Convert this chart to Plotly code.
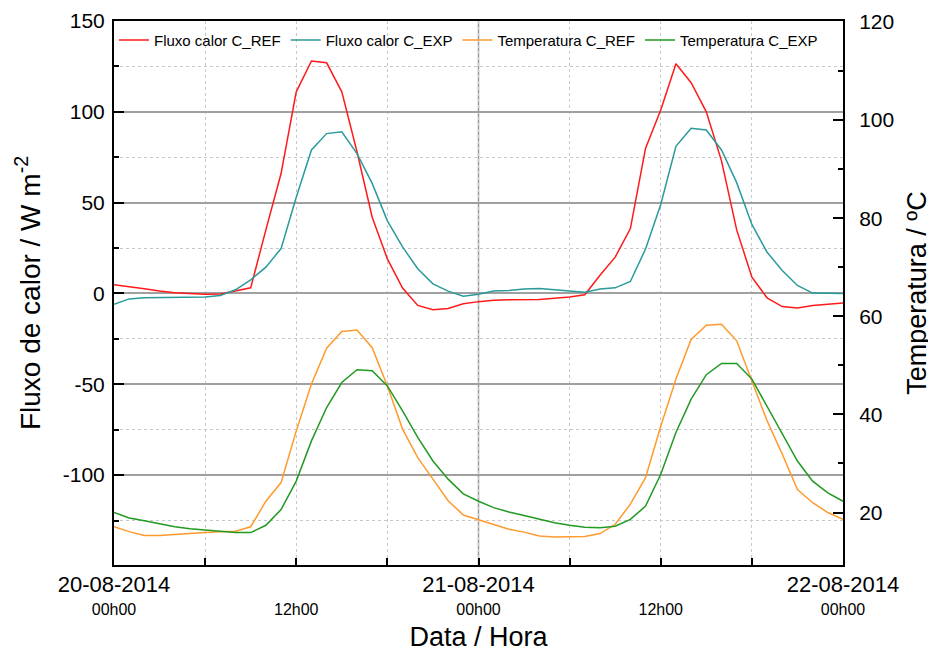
import plotly.graph_objects as go
import pandas as pd

# hourly time stamps 20-08-2014 00h00 .. 22-08-2014 00h00
times = pd.date_range("2014-08-20 00:00", "2014-08-22 00:00", freq="h")

fluxo_ref = [4.8, 3.9, 2.6, 1.3, 0.4, 0.0, -0.4, -0.3, 1.3, 3.1, 35, 66, 111, 128, 127, 111, 78, 42, 19, 3, -6.6, -9, -8.3, -5.7,
             -4.5, -3.7, -3.5, -3.5, -3.3, -2.6, -2.0, -0.7, 10, 20, 35.7, 80, 101, 126.5, 116, 100, 73, 35, 9, -2.4, -7.2, -8, -6.6, -6, -5.3]
fluxo_exp = [-6, -3, -2.4, -2.2, -2.2, -2.2, -2, -1.1, 2, 7.5, 14.5, 24.7, 53, 79, 88, 89, 77, 60.6, 40, 25.6, 13.6, 5.3, 1.3, -1.5,
             -0.4, 1.3, 1.6, 2.4, 2.7, 2.0, 1.5, 0.7, 2.4, 3.1, 6.6, 24.5, 49, 81, 91, 90, 79, 61, 38, 22.7, 12.6, 4.4, 0.2, 0, 0]
temp_ref = [17.1, 16.1, 15.3, 15.3, 15.5, 15.8, 15.95, 16.1, 16.2, 17.1, 22.3, 26.1, 36.6, 46.2, 53.5, 56.9, 57.2, 53.6, 45.8, 37, 31.2, 26.8, 22.4, 19.5,
            18.5, 17.6, 16.6, 16.0, 15.2, 15.0, 15.0, 15.1, 15.7, 17.6, 21.7, 27.1, 37.6, 47.2, 55.3, 58.2, 58.4, 55, 46.8, 38.7, 31.9, 24.7, 22, 20, 18.6]
temp_exp = [20, 18.9, 18.3, 17.7, 17.1, 16.7, 16.4, 16.1, 15.9, 15.9, 17.4, 20.6, 26.4, 34.6, 41.4, 46.5, 49.1, 48.9, 45.8, 40.7, 35.3, 30.5, 26.8, 23.8,
            22.3, 21, 20.1, 19.4, 18.6, 17.9, 17.4, 17.0, 16.9, 17.2, 18.6, 21.3, 27.8, 36.3, 43.1, 48.1, 50.4, 50.4, 47.2, 41.7, 36, 30.5, 26.4, 24, 22.3]

series_names = ["Fluxo calor C_REF", "Fluxo calor C_EXP", "Temperatura C_REF", "Temperatura C_EXP"]
colors = ["#ff1a1a", "#2a9a9a", "#ff9a2e", "#229922"]

x_tickvals = pd.date_range("2014-08-20 00:00", "2014-08-22 00:00", freq="12h")
x_dates = ["20-08-2014", None, "21-08-2014", None, "22-08-2014"]
x_hours = ["00h00", "12h00", "00h00", "12h00", "00h00"]
x_minor = pd.date_range("2014-08-20 06:00", "2014-08-21 18:00", freq="12h")

big = "<span style='font-size:22px'>{}</span>"
small = "<span style='font-size:16px'>{}</span>"
x_ticktext = []
for d, h in zip(x_dates, x_hours):
    first = big.format(d) if d else "&nbsp;"
    x_ticktext.append(first + "<br>" + small.format(h))

y1_tickvals = [-100, -50, 0, 50, 100, 150]
y1_ticktext = ["-100", "-50", "0", "50", "100", "150"]
y1_minor = [-125, -75, -25, 25, 75, 125]
y2_tickvals = [20, 40, 60, 80, 100, 120]
y2_ticktext = ["20", "40", "60", "80", "100", "120"]
y2_minor = [30, 50, 70, 90, 110]

fig = go.Figure()
fig.add_trace(go.Scatter(x=times, y=fluxo_ref, name=series_names[0], mode="lines",
                         line=dict(color=colors[0], width=1.5)))
fig.add_trace(go.Scatter(x=times, y=fluxo_exp, name=series_names[1], mode="lines",
                         line=dict(color=colors[1], width=1.5)))
fig.add_trace(go.Scatter(x=times, y=temp_ref, name=series_names[2], mode="lines", yaxis="y2",
                         line=dict(color=colors[2], width=1.5)))
fig.add_trace(go.Scatter(x=times, y=temp_exp, name=series_names[3], mode="lines", yaxis="y2",
                         line=dict(color=colors[3], width=1.5)))

fig.add_shape(type="line", xref="x", yref="paper", x0="2014-08-21 00:00", x1="2014-08-21 00:00",
              y0=0, y1=1, line=dict(color="#999999", width=1.5), layer="between")

font_family = "Arial, Liberation Sans, sans-serif"
fig.update_layout(
    width=928, height=647,
    margin=dict(l=106, r=93, t=13, b=90, autoexpand=False),
    paper_bgcolor="white", plot_bgcolor="white",
    font=dict(family=font_family, color="black"),
    showlegend=True,
    legend=dict(orientation="h", x=0, y=0.995, xanchor="left", yanchor="top",
                bgcolor="rgba(0,0,0,0)", font=dict(size=15), itemwidth=30,
                tracegroupgap=0),
    xaxis=dict(
        range=["2014-08-20 00:00", "2014-08-22 00:00"], automargin=False,
        tickmode="array", tickvals=x_tickvals, ticktext=x_ticktext,
        tickfont=dict(size=18), ticks="inside", ticklen=7, tickwidth=2, tickcolor="black",
        ticklabelstandoff=3,
        showline=True, linecolor="black", linewidth=2, mirror=True,
        showgrid=True, gridcolor="#c8c8c8", gridwidth=1, griddash="dot",
        minor=dict(tickvals=x_minor, ticks="inside", ticklen=7, tickwidth=2, tickcolor="black",
                   showgrid=True, gridcolor="#c8c8c8", gridwidth=1, griddash="dot"),
        zeroline=False,
        title=dict(text="Data / Hora", font=dict(size=27), standoff=10),
    ),
    yaxis=dict(
        range=[-149.5, 150], automargin=False,
        tickmode="array", tickvals=y1_tickvals, ticktext=y1_ticktext,
        tickfont=dict(size=21), ticks="inside", ticklen=10, tickwidth=2, tickcolor="black",
        ticklabelstandoff=3,
        showline=True, linecolor="black", linewidth=2, mirror=True,
        showgrid=True, gridcolor="#a0a0a0", gridwidth=1.5, zeroline=False,
        minor=dict(tickvals=y1_minor, ticks="inside", ticklen=5, tickwidth=2,
                   tickcolor="black", showgrid=True, gridcolor="#c8c8c8", gridwidth=1, griddash="dot"),
        title=dict(text="Fluxo de calor / W m<sup>-2</sup>", font=dict(size=28), standoff=14),
    ),
    yaxis2=dict(
        range=[9.3, 120.2], overlaying="y", side="right", automargin=False,
        tickmode="array", tickvals=y2_tickvals, ticktext=y2_ticktext,
        tickfont=dict(size=21), ticks="inside", ticklen=10, tickwidth=2, tickcolor="black",
        ticklabelstandoff=10,
        showline=True, linecolor="black", linewidth=2,
        showgrid=False, zeroline=False,
        minor=dict(tickvals=y2_minor, ticks="inside", ticklen=5, tickwidth=2,
                   tickcolor="black"),
        title=dict(text="Temperatura / ºC", font=dict(size=27), standoff=14),
    ),
)

fig.write_html("out.html")
